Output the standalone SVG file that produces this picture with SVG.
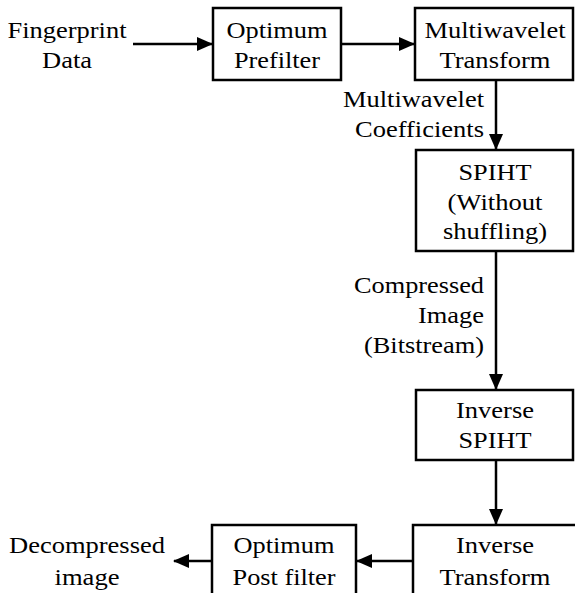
<svg xmlns="http://www.w3.org/2000/svg" width="575" height="593" viewBox="0 0 575 593">
<style>
.box{fill:#fff;stroke:#000;stroke-width:2.5}
text{font-family:"Liberation Serif","Tinos","Times New Roman","Nimbus Roman","DejaVu Serif","Noto Serif",serif;font-size:24px;fill:#000}
.c{text-anchor:middle}
.r{text-anchor:end}
.ln{stroke:#000;stroke-width:2.5;fill:none}
</style>
<defs>
<marker id="ah" markerUnits="userSpaceOnUse" markerWidth="16" markerHeight="14" viewBox="0 0 16 14" refX="15" refY="7" orient="auto">
<path d="M0,0 L16,7 L0,14 Z" fill="#000"/>
</marker>
</defs>
<g id="connectors">
<line class="ln" x1="133" y1="44" x2="212" y2="44" marker-end="url(#ah)"/>
<line class="ln" x1="342" y1="44" x2="414" y2="44" marker-end="url(#ah)"/>
<line class="ln" x1="496" y1="81" x2="496" y2="149" marker-end="url(#ah)"/>
<line class="ln" x1="496" y1="251" x2="496" y2="389" marker-end="url(#ah)"/>
<line class="ln" x1="496" y1="460" x2="496" y2="524" marker-end="url(#ah)"/>
<line class="ln" x1="412" y1="561" x2="357" y2="561" marker-end="url(#ah)"/>
<line class="ln" x1="212" y1="561" x2="174" y2="561" marker-end="url(#ah)"/>
</g>
<g id="input">
<text class="c" x="67" y="38" textLength="119" lengthAdjust="spacingAndGlyphs">Fingerprint</text>
<text class="c" x="67" y="68" textLength="50" lengthAdjust="spacingAndGlyphs">Data</text>
</g>
<g id="prefilter">
<rect class="box" x="213" y="8" width="128" height="72"/>
<text class="c" x="277" y="38" textLength="101" lengthAdjust="spacingAndGlyphs">Optimum</text>
<text class="c" x="277" y="68" textLength="86" lengthAdjust="spacingAndGlyphs">Prefilter</text>
</g>
<g id="mwt">
<rect class="box" x="415" y="8" width="158" height="72"/>
<text class="c" x="495" y="38" textLength="141" lengthAdjust="spacingAndGlyphs">Multiwavelet</text>
<text class="c" x="495" y="68" textLength="111" lengthAdjust="spacingAndGlyphs">Transform</text>
</g>
<g id="coef-label">
<text class="r" x="484" y="107" textLength="141" lengthAdjust="spacingAndGlyphs">Multiwavelet</text>
<text class="r" x="484" y="137" textLength="129" lengthAdjust="spacingAndGlyphs">Coefficients</text>
</g>
<g id="spiht">
<rect class="box" x="416" y="150" width="157" height="101"/>
<text class="c" x="495" y="180" textLength="73" lengthAdjust="spacingAndGlyphs">SPIHT</text>
<text class="c" x="495" y="210" textLength="95" lengthAdjust="spacingAndGlyphs">(Without</text>
<text class="c" x="495" y="239" textLength="104" lengthAdjust="spacingAndGlyphs">shuffling)</text>
</g>
<g id="comp-label">
<text class="r" x="484" y="293" textLength="130" lengthAdjust="spacingAndGlyphs">Compressed</text>
<text class="r" x="484" y="323" textLength="66" lengthAdjust="spacingAndGlyphs">Image</text>
<text class="r" x="484" y="353" textLength="120" lengthAdjust="spacingAndGlyphs">(Bitstream)</text>
</g>
<g id="ispiht">
<rect class="box" x="416" y="390" width="157" height="70"/>
<text class="c" x="495" y="418" textLength="78" lengthAdjust="spacingAndGlyphs">Inverse</text>
<text class="c" x="495" y="448" textLength="73" lengthAdjust="spacingAndGlyphs">SPIHT</text>
</g>
<g id="itransform">
<rect class="box" x="413" y="525" width="180" height="90"/>
<text class="c" x="495" y="553" textLength="78" lengthAdjust="spacingAndGlyphs">Inverse</text>
<text class="c" x="495" y="585" textLength="111" lengthAdjust="spacingAndGlyphs">Transform</text>
</g>
<g id="postfilter">
<rect class="box" x="212" y="525" width="144" height="90"/>
<text class="c" x="284" y="553" textLength="101" lengthAdjust="spacingAndGlyphs">Optimum</text>
<text class="c" x="284" y="585" textLength="103" lengthAdjust="spacingAndGlyphs">Post filter</text>
</g>
<g id="output">
<text class="c" x="87" y="553" textLength="156" lengthAdjust="spacingAndGlyphs">Decompressed</text>
<text class="c" x="87" y="585" textLength="65" lengthAdjust="spacingAndGlyphs">image</text>
</g>
</svg>
